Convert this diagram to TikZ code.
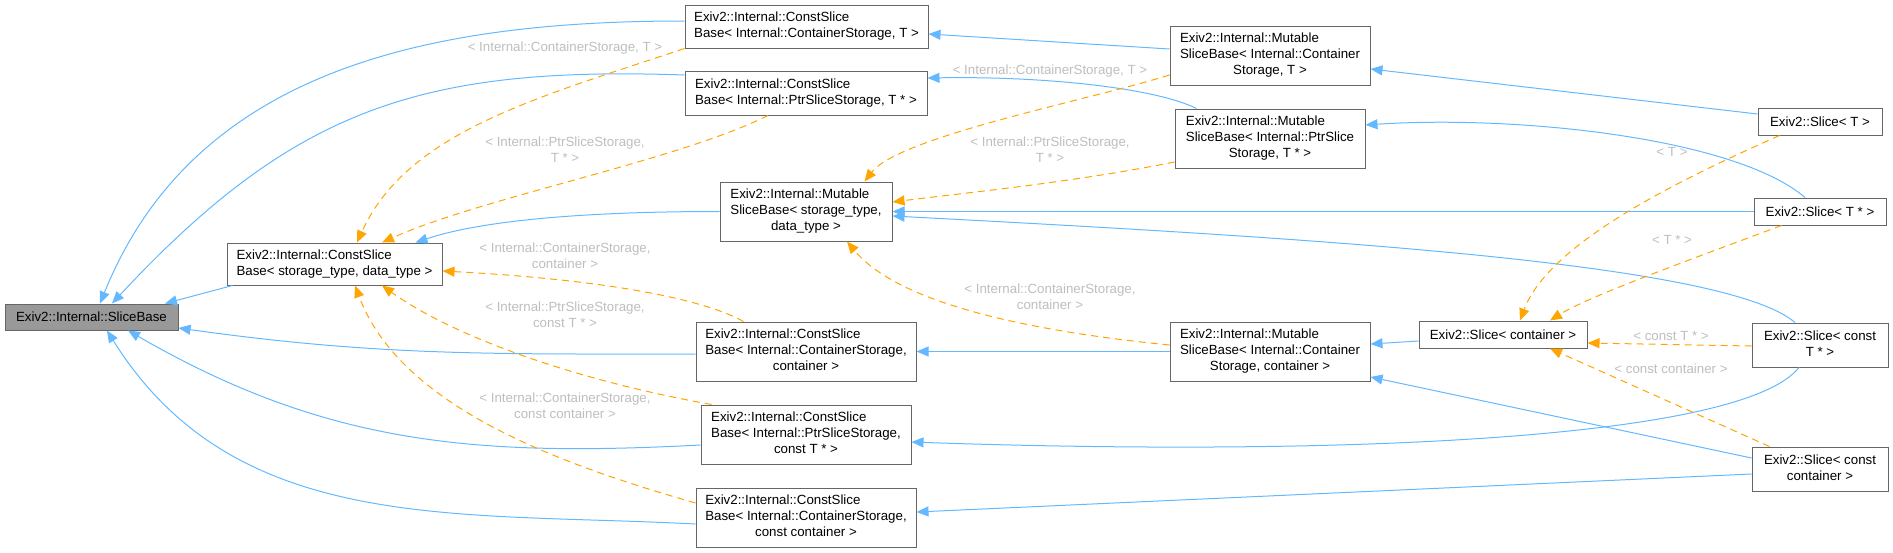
\documentclass[tikz,border=0pt]{standalone}
\usepackage{fontspec}
\setmainfont{Liberation Sans}
\usetikzlibrary{arrows.meta}
\definecolor{edgeblue}{HTML}{63B8FF}
\definecolor{edgeorange}{HTML}{FFA500}
\definecolor{boxline}{HTML}{666666}
\definecolor{lblgray}{HTML}{BEBEBE}
\definecolor{basefill}{HTML}{999999}
\newcommand{\clslines}[1]{\begin{tabular}{@{}l@{}}#1\end{tabular}}
\newcommand{\lastc}[1]{\multicolumn{1}{@{}c@{}}{#1}}

\begin{document}
\begin{tikzpicture}[x=1pt,y=1pt,
    cls/.style={draw=boxline,line width=1pt,fill=white,inner sep=0pt,
      font=\fontsize{13.3}{16}\selectfont},
    lbl/.style={text=lblgray,inner sep=0pt,align=center,
      font=\fontsize{13.3}{16}\selectfont},
    inh/.style={draw=edgeblue,line width=1pt,-{Triangle[length=12pt,width=10pt]}},
    tmpl/.style={draw=edgeorange,line width=1pt,dash pattern=on 7pt off 5pt,
      -{Triangle[length=12pt,width=10pt]}}]
  \useasboundingbox (0,0) rectangle (1893,-552);
  % classes
  \node[cls,fill=basefill,minimum width=173,minimum height=26] (base) at (91.5,-317) {Exiv2::Internal::SliceBase};
  \node[cls,minimum width=215,minimum height=42] (csbSD) at (334.5,-264) {\clslines{Exiv2::Internal::ConstSlice\\Base< storage\_type, data\_type >}};
  \node[cls,minimum width=243,minimum height=43] (csbCT) at (806.5,-26.5) {\clslines{Exiv2::Internal::ConstSlice\\Base< Internal::ContainerStorage, T >}};
  \node[cls,minimum width=242,minimum height=44] (csbPT) at (806,-93) {\clslines{Exiv2::Internal::ConstSlice\\Base< Internal::PtrSliceStorage, T * >}};
  \node[cls,minimum width=172,minimum height=59] (msbSD) at (806,-211.5) {\clslines{Exiv2::Internal::Mutable\\SliceBase< storage\_type,\\\lastc{data\_type >}}};
  \node[cls,minimum width=220,minimum height=59] (csbCC) at (806,-351.5) {\clslines{Exiv2::Internal::ConstSlice\\Base< Internal::ContainerStorage,\\\lastc{container >}}};
  \node[cls,minimum width=210,minimum height=59] (csbPcT) at (806,-434.5) {\clslines{Exiv2::Internal::ConstSlice\\Base< Internal::PtrSliceStorage,\\\lastc{const T * >}}};
  \node[cls,minimum width=220,minimum height=59] (csbCcC) at (806,-517.5) {\clslines{Exiv2::Internal::ConstSlice\\Base< Internal::ContainerStorage,\\\lastc{const container >}}};
  \node[cls,minimum width=200,minimum height=59] (msbCT) at (1270,-55.5) {\clslines{Exiv2::Internal::Mutable\\SliceBase< Internal::Container\\\lastc{Storage, T >}}};
  \node[cls,minimum width=190,minimum height=59] (msbPT) at (1270,-138.5) {\clslines{Exiv2::Internal::Mutable\\SliceBase< Internal::PtrSlice\\\lastc{Storage, T * >}}};
  \node[cls,minimum width=200,minimum height=59] (msbCC) at (1270,-351.5) {\clslines{Exiv2::Internal::Mutable\\SliceBase< Internal::Container\\\lastc{Storage, container >}}};
  \node[cls,minimum width=168,minimum height=27] (sliceC) at (1503,-334.5) {Exiv2::Slice< container >};
  \node[cls,minimum width=124,minimum height=27] (sliceT) at (1820,-121.5) {Exiv2::Slice< T >};
  \node[cls,minimum width=132,minimum height=27] (slicePT) at (1820,-211.5) {Exiv2::Slice< T * >};
  \node[cls,minimum width=136,minimum height=44] (sliceCT) at (1820,-345) {\clslines{Exiv2::Slice< const\\\lastc{T * >}}};
  \node[cls,minimum width=136,minimum height=44] (sliceCC) at (1820,-469) {\clslines{Exiv2::Slice< const\\\lastc{container >}}};
  % inheritance
  \draw[inh] ([yshift=5.5]csbCT.west) to[out=180,in=68] ([xshift=8.5]base.north);
  \draw[inh] ([yshift=18]csbPT.west) to[out=178,in=47,looseness=1.1] ([xshift=20.5]base.north);
  \draw[inh] ([xshift=6]csbSD.south west) -- ([xshift=73.5]base.north);
  \draw[inh] ([yshift=-2.5]csbCC.west) to[out=180,in=-8] ([yshift=-11]base.east);
  \draw[inh] ([yshift=-10.5]csbPcT.west) to[out=183,in=-30] ([xshift=36.5]base.south);
  \draw[inh] ([yshift=-6.5]csbCcC.west) to[out=177,in=-58] ([xshift=15.5]base.south);
  \draw[inh] ([yshift=6.5]msbCT.west) -- ([yshift=-7.5]csbCT.east);
  \draw[inh] ([xshift=22]msbPT.north west) .. controls +(-40,20) and +(120,2) .. ([yshift=15]csbPT.east);
  \draw[inh] ([yshift=7.5]sliceT.west) -- ([yshift=-13.5]msbCT.east);
  \draw[inh] ([xshift=-15]slicePT.north) .. controls +(-70,60) and +(150,10) .. ([yshift=13.5]msbPT.east);
  \draw[inh] (slicePT.west) -- (msbSD.east);
  \draw[inh] ([xshift=-25]sliceCT.north) .. controls +(-70,60) and +(420,-22) .. ([yshift=-4.5]msbSD.east);
  \draw[inh] ([xshift=-21]sliceCT.south) .. controls +(-60,-75) and +(400,-14) .. ([yshift=-7.5]csbPcT.east);
  \draw[inh] ([yshift=11]sliceCC.west) -- ([yshift=-25.5]msbCC.east);
  \draw[inh] ([yshift=-5]sliceCC.west) -- ([yshift=5.5]csbCcC.east);
  \draw[inh] ([yshift=-6.5]sliceC.west) -- ([yshift=7.5]msbCC.east);
  \draw[inh] (msbCC.west) -- (csbCC.east);
  \draw[inh] (msbSD.west) .. controls +(-150,0) and +(60,20) .. ([xshift=-27]csbSD.north east);
  % template instances
  \draw[tmpl] (csbCT.south west) .. controls +(-150,-50) and +(50,110) .. ([xshift=22.5]csbSD.north);
  \draw[tmpl] ([xshift=-38]csbPT.south) .. controls +(-90,-45) and +(100,45) .. ([xshift=47.5]csbSD.north);
  \draw[tmpl] ([xshift=48]csbCC.north west) .. controls +(-45,25) and +(150,-8) .. ([yshift=-7]csbSD.east);
  \draw[tmpl] ([xshift=11]csbPcT.north west) .. controls +(-140,25) and +(70,-50) .. ([xshift=47.5]csbSD.south);
  \draw[tmpl] ([yshift=14.5]csbCcC.west) .. controls +(-140,40) and +(45,-120) .. ([xshift=20.5]csbSD.south);
  \draw[tmpl] ([yshift=-19.5]msbCT.west) .. controls +(-80,-25) and +(35,45) .. ([xshift=-28]msbSD.north east);
  \draw[tmpl] ([yshift=-23.5]msbPT.west) .. controls +(-100,-20) and +(80,10) .. ([yshift=9.5]msbSD.east);
  \draw[tmpl] ([yshift=6.5]msbCC.west) .. controls +(-150,15) and +(50,-60) .. ([xshift=41]msbSD.south);
  \draw[tmpl] ([xshift=22]sliceT.south west) .. controls +(-90,-40) and +(30,80) .. ([xshift=17]sliceC.north);
  \draw[tmpl] ([xshift=28]slicePT.south west) .. controls +(-80,-30) and +(40,25) .. ([xshift=47]sliceC.north);
  \draw[tmpl] ([yshift=-1]sliceCT.west) -- ([yshift=-8.5]sliceC.east);
  \draw[tmpl] ([xshift=18]sliceCC.north west) -- ([xshift=47]sliceC.south);
  % labels
  \node[lbl] (lCT) at (565,-48) {< Internal::ContainerStorage, T >};
  \node[lbl] (lPT) at (565,-150) {< Internal::PtrSliceStorage,\\T * >};
  \node[lbl] (lCC) at (565,-256) {< Internal::ContainerStorage,\\container >};
  \node[lbl] (lPcT) at (565,-314.5) {< Internal::PtrSliceStorage,\\const T * >};
  \node[lbl] (lCcC) at (565,-406) {< Internal::ContainerStorage,\\const container >};
  \node[lbl] (lmCT) at (1050,-71) {< Internal::ContainerStorage, T >};
  \node[lbl] (lmPT) at (1050,-150) {< Internal::PtrSliceStorage,\\T * >};
  \node[lbl] (lmCC) at (1050,-297) {< Internal::ContainerStorage,\\container >};
  \node[lbl] (lT) at (1672,-152) {< T >};
  \node[lbl] (lPTs) at (1672,-240) {< T * >};
  \node[lbl] (lcT) at (1671,-336) {< const T * >};
  \node[lbl] (lcC) at (1671,-369) {< const container >};
\end{tikzpicture}
\end{document}
